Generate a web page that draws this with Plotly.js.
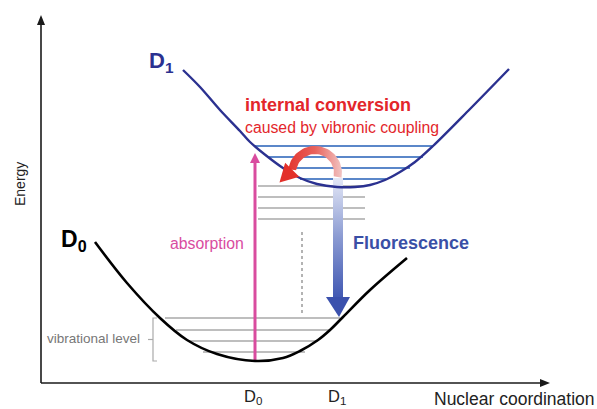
<!DOCTYPE html>
<html>
<head>
<meta charset="utf-8">
<script src="https://cdn.plot.ly/plotly-3.0.1.min.js"></script>
<style>html,body{margin:0;padding:0;background:#fff;}#chart{width:597px;height:409px;}</style>
</head>
<body>
<div id="chart"></div>
<script>
// ---- Data (x = nuclear coordinate, y = energy; arbitrary units) ----
const d1Q = [142,159,179,199,209,227,242,259,276,296,314,329,344,359,374,392,429,468];
const d1E = [313,296,273,252,241,226,215,205,199,196,196,198,203,211,221,237,274,314];
const d0Q = [54,86,119,146,176,214,242,259,277,289,302,329,366];
const d0E = [141,100,65,43,29,22,25,32,43,53,66,93,125];

// vibrational levels
const d0LevelE = [65,53,42,31];
const d0LevelL = [124,135,147,162];
const d0LevelR = [299,289,277,264];
const d1LevelE = [237,226,215,204];
const d1LevelL = [214,227,242,259];
const d1LevelR = [392,382,369,345];
const midLevelE = [197,186,175,164];
const midLevelL = [217,217,217,217];
const midLevelR = [324,324,324,324];

// transitions
const absorptionQ = 214, absorptionFrom = 22, absorptionTo = 230;
const fluorQ = 297, fluorFrom = 205, fluorTo = 66;
const icCenter = [274,210], icRadius = 23, icFrom = -10, icTo = 172;
const dottedQ = 261, dottedFrom = 70, dottedTo = 153;
const bracketQ = 112, bracketTop = 65, bracketBottom = 22;

// axis labels
const xTickVals = [212, 296];
const xTickText = ['D<sub>0</sub>', 'D<sub>1</sub>'];

const FONT = 'Liberation Sans, Arial, Helvetica, sans-serif';
const NAVY = '#2b3190', RED = '#e3262b', PINK = '#d94c9f', GRAY = '#a9a9a9', LBLUE = '#5b87c9';

function levels(L, R, E) {
  const x = [], y = [];
  E.forEach((e, i) => { x.push(L[i], R[i], null); y.push(e, e, null); });
  return {x, y};
}

const traces = [];
function addLevels(L, R, E, color, w) {
  const lv = levels(L, R, E);
  traces.push({type:'scatter', mode:'lines', x:lv.x, y:lv.y, line:{color:color, width:w}});
}
addLevels(d0LevelL, d0LevelR, d0LevelE, GRAY, 1.6);
addLevels(midLevelL, midLevelR, midLevelE, GRAY, 1.6);
addLevels(d1LevelL, d1LevelR, d1LevelE, LBLUE, 1.9);

// dotted line
traces.push({type:'scatter', mode:'lines', x:[dottedQ, dottedQ], y:[dottedFrom, dottedTo],
  line:{color:'#9a9a9a', width:1.5, dash:'dot'}});

// bracket
traces.push({type:'scatter', mode:'lines',
  x:[bracketQ+4, bracketQ, bracketQ, bracketQ+4, null, bracketQ, bracketQ-5],
  y:[bracketTop, bracketTop, bracketBottom, bracketBottom, null, (bracketTop+bracketBottom)/2, (bracketTop+bracketBottom)/2],
  line:{color:'#aaaaaa', width:1.2}});

// absorption arrow
traces.push({type:'scatter', mode:'lines', x:[absorptionQ, absorptionQ], y:[absorptionFrom, absorptionTo-8],
  line:{color:PINK, width:3}});
traces.push({type:'scatter', mode:'lines', fill:'toself', fillcolor:PINK, line:{width:0, color:PINK},
  x:[absorptionQ-5, absorptionQ+5, absorptionQ, absorptionQ-5], y:[absorptionTo-10, absorptionTo-10, absorptionTo, absorptionTo-10]});

// fluorescence arrow (gradient bar + head)
const fw = 5, headBase = fluorTo + 20, headHalf = 12;
traces.push({type:'scatter', mode:'lines', fill:'toself', line:{width:0, color:'rgba(0,0,0,0)'},
  fillcolor:'#8a9bd4',
  fillgradient:{type:'vertical', start:headBase, stop:fluorFrom,
    colorscale:[[0,'#4259b3'],[0.5,'#8a9ad2'],[1,'#e4e8f6']]},
  x:[fluorQ-fw, fluorQ+fw, fluorQ+fw, fluorQ-fw, fluorQ-fw],
  y:[fluorFrom, fluorFrom, headBase, headBase, fluorFrom]});
traces.push({type:'scatter', mode:'lines', fill:'toself', fillcolor:'#3b51ad', line:{width:0, color:'#3b51ad'},
  x:[fluorQ-headHalf, fluorQ+headHalf, fluorQ+1, fluorQ-headHalf], y:[headBase, headBase, fluorTo, headBase]});

// curves
traces.push({type:'scatter', mode:'lines', x:d0Q, y:d0E, line:{color:'#000', width:2.6, shape:'spline', smoothing:1}});
traces.push({type:'scatter', mode:'lines', x:d1Q, y:d1E, line:{color:NAVY, width:2.4, shape:'spline', smoothing:1}});

// internal conversion arc
(function(){
  const [cx, cy] = icCenter, w = 8, n = 40;
  const xs = [], ys = [];
  for (let i = 0; i <= n; i++) {
    const t = (icFrom + (icTo-icFrom)*i/n) * Math.PI/180;
    xs.push(cx + (icRadius + w/2)*Math.cos(t)); ys.push(cy + (icRadius + w/2)*Math.sin(t));
  }
  for (let i = n; i >= 0; i--) {
    const t = (icFrom + (icTo-icFrom)*i/n) * Math.PI/180;
    xs.push(cx + (icRadius - w/2)*Math.cos(t)); ys.push(cy + (icRadius - w/2)*Math.sin(t));
  }
  xs.push(xs[0]); ys.push(ys[0]);
  traces.push({type:'scatter', mode:'lines', fill:'toself', line:{width:0, color:'rgba(0,0,0,0)'},
    fillcolor:'#e9706a',
    fillgradient:{type:'horizontal', start:cx-icRadius-w, stop:cx+icRadius+w,
      colorscale:[[0,'#e3302a'],[0.5,'#e8625c'],[1,'#f3d3d2']]},
    x:xs, y:ys});
  const t1 = icTo*Math.PI/180;
  const bx = cx + icRadius*Math.cos(t1), by = cy + icRadius*Math.sin(t1);
  const dx = -0.707, dy = -0.707, px = 0.707, py = -0.707, len = 18, half = 10;
  traces.push({type:'scatter', mode:'lines', fill:'toself', fillcolor:'#e3302a', line:{width:0, color:'#e3302a'},
    x:[bx+px*half, bx+dx*len, bx-px*half, bx+px*half],
    y:[by+py*half, by+dy*len, by-py*half, by+py*half]});
})();

// axes with arrowheads
const yTop = 368, xRight = 509;
traces.push({type:'scatter', mode:'lines', x:[0, 0, null, 0, xRight-8], y:[0, yTop-8, null, 0, 0],
  line:{color:'#1a1a1a', width:1.6}});
traces.push({type:'scatter', mode:'lines', fill:'toself', fillcolor:'#1a1a1a', line:{width:0, color:'#1a1a1a'},
  x:[-4, 4, 0, -4, null], y:[yTop-10, yTop-10, yTop, yTop-10, null]});
traces.push({type:'scatter', mode:'lines', fill:'toself', fillcolor:'#1a1a1a', line:{width:0, color:'#1a1a1a'},
  x:[xRight-10, xRight-10, xRight, xRight-10], y:[-4, 4, 0, -4]});

const ann = (text, x, y, opts) => Object.assign({text, x, y, xref:'x', yref:'y', showarrow:false,
  font:{family:FONT, size:16, color:'#222'}}, opts);

const annotations = [
  ann('<b>D<sub>1</sub></b>', 106, 321, {xanchor:'left', yanchor:'middle', font:{family:FONT, size:22, color:NAVY}}),
  ann('<b>D<sub>0</sub></b>', 18, 143, {xanchor:'left', yanchor:'middle', font:{family:FONT, size:23, color:'#000'}}),
  ann('<b>internal conversion</b>', 202, 278, {xanchor:'left', yanchor:'middle', font:{family:FONT, size:18, color:RED}}),
  ann('caused by vibronic coupling', 202, 256, {xanchor:'left', yanchor:'middle', font:{family:FONT, size:15.8, color:RED}}),
  ann('absorption', 205, 140, {xanchor:'right', yanchor:'middle', font:{family:FONT, size:15.8, color:PINK}}),
  ann('<b>Fluorescence</b>', 310, 140, {xanchor:'left', yanchor:'middle', font:{family:FONT, size:18, color:'#3a4fa6'}}),
  ann('vibrational level', 101, 45, {xanchor:'right', yanchor:'middle', font:{family:FONT, size:13.5, color:'#777'}}),
  ann('Energy', -21, 199, {textangle:-90, xanchor:'center', yanchor:'middle', font:{family:FONT, size:14, color:'#222'}}),
  ann('Nuclear coordination', 391, -16, {xanchor:'left', yanchor:'middle', font:{family:FONT, size:17.5, color:'#222'}})
];
xTickVals.forEach((v, i) => annotations.push(ann(xTickText[i], v, -14, {xanchor:'center', yanchor:'middle', font:{family:FONT, size:16.5, color:'#222'}})));

const layout = {
  width:597, height:409, margin:{l:0, r:0, t:0, b:0},
  paper_bgcolor:'#fff', plot_bgcolor:'#fff', showlegend:false,
  xaxis:{range:[-41, 556], visible:false, fixedrange:true},
  yaxis:{range:[-26, 383], visible:false, fixedrange:true},
  annotations
};
Plotly.newPlot('chart', traces.map(t => Object.assign({hoverinfo:'skip'}, t)), layout, {staticPlot:true, displayModeBar:false});
</script>
</body>
</html>
